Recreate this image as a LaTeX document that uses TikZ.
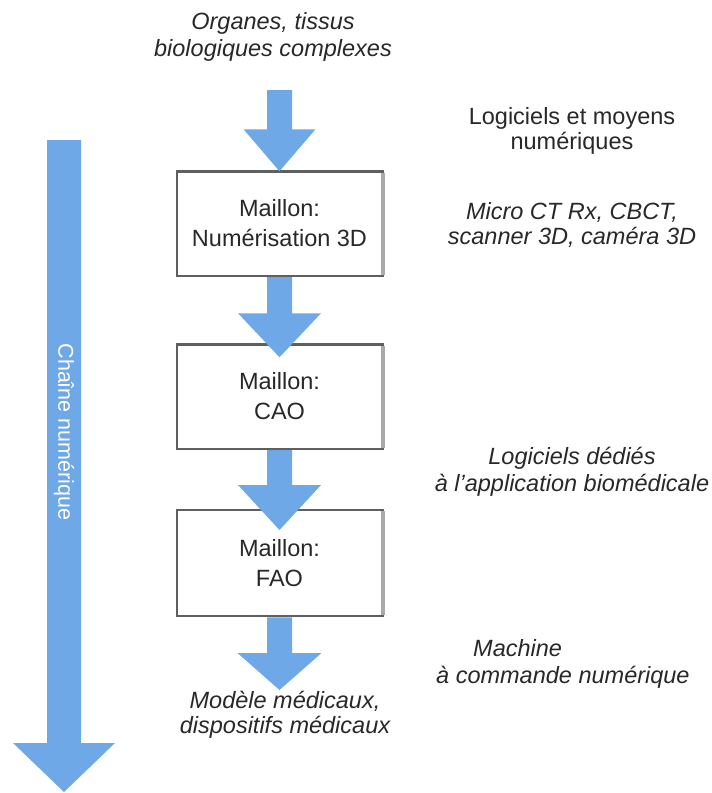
\documentclass[tikz,border=0pt]{standalone}
\usepackage{fontspec}
\setmainfont{Liberation Sans}
\usetikzlibrary{calc}
\definecolor{arrowblue}{RGB}{110,168,230}
\definecolor{txt}{RGB}{40,40,40}
\definecolor{boxdark}{RGB}{95,95,95}
\definecolor{boxlight}{RGB}{170,170,170}
% #1 from, #2 tip, #3 shaft half width, #4 head half width, #5 head length
\newcommand\blockarrow[5]{%
  \fill[arrowblue] let \p1=(#1), \p2=(#2) in
    (\x1-#3,\y1) -- (\x1+#3,\y1) -- (\x1+#3,\y2+#5) -- (\x1+#4,\y2+#5)
    -- (\x1,\y2) -- (\x1-#4,\y2+#5) -- (\x1-#3,\y2+#5) -- cycle;}
\begin{document}
\begin{tikzpicture}[x=1pt,y=-1pt,
  maillon/.style={draw=boxdark, line width=2.5pt, fill=white,
    minimum width=205.5pt, minimum height=104.5pt, inner sep=0pt, outer sep=0pt,
    align=center, text=txt, font=\fontsize{23.5}{30}\selectfont},
  lbl/.style={align=center, text=txt, inner sep=0pt,
    font=\fontsize{23.5}{25}\selectfont\itshape},
  lblup/.style={lbl, font=\fontsize{23.5}{25}\selectfont},
  lightedge/.style={draw=boxlight, line width=3.5pt}]
\useasboundingbox[fill=white] (0,0) rectangle (712,793);

% boxes
\node[maillon] (b1) at (279.5,223.5) {Maillon:\\Numérisation 3D};
\node[maillon] (b2) at (279.5,396.5) {Maillon:\\CAO};
\node[maillon, minimum height=106pt] (b3) at (279.5,563) {Maillon:\\FAO};
\foreach \b in {b1,b2,b3}
  \draw[lightedge] ([xshift=0.5pt,yshift=-1.25pt]\b.north east) -- ([xshift=0.5pt,yshift=1.25pt]\b.south east);

% texts
\node[lbl, font=\fontsize{23.5}{27}\selectfont\itshape] (organes) at (273,36.5) {Organes, tissus\\biologiques complexes};
\node[lblup] (logi) at (572,130.5) {Logiciels et moyens\\numériques};
\node[lbl] (micro) at (572,224.5) {Micro CT Rx, CBCT,\\scanner 3D, caméra 3D};
\node[lbl, font=\fontsize{23.5}{27}\selectfont\itshape] (dedies) at (572,471.5) {Logiciels dédiés\\à l’application biomédicale};
\node[lbl, align=left, anchor=west, font=\fontsize{23.5}{27}\selectfont\itshape] (machine) at (436,663.5) {\hspace*{37pt}Machine\\à commande numérique};
\node[lbl] (modele) at (285,714.5) {Modèle médicaux,\\dispositifs médicaux};

% flow arrows
\coordinate (in1) at (279.5,90);
\coordinate (t2) at ($(b2.north)+(0,13)$);
\coordinate (t3) at ($(b3.north)+(0,20)$);
\coordinate (s1) at ($(b1.south)+(0,1.25)$);
\coordinate (s2) at ($(b2.south)+(0,1.25)$);
\coordinate (s3) at ($(b3.south)+(0,1.25)$);
\coordinate (t4) at (279.5,690);
\blockarrow{in1}{b1.north}{12.5pt}{36pt}{42pt}
\blockarrow{s1}{t2}{12.5pt}{41.5pt}{44pt}
\blockarrow{s2}{t3}{12.5pt}{41.5pt}{45pt}
\blockarrow{s3}{t4}{12.5pt}{42pt}{37pt}

% big chain arrow
\coordinate (bigtop) at (64,140);
\coordinate (bigtip) at (64,792);
\blockarrow{bigtop}{bigtip}{17pt}{51pt}{49pt}
\node[rotate=-90, text=white, inner sep=0pt, font=\fontsize{21.5}{24}\selectfont] (chaine) at (64,432) {Chaîne numérique};
\end{tikzpicture}
\end{document}
